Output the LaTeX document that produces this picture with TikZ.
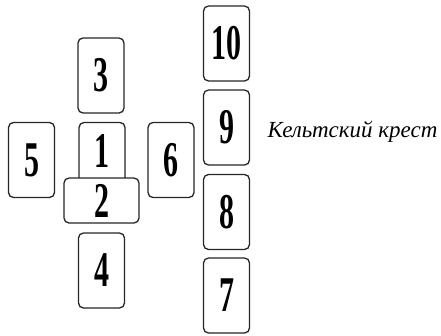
\documentclass[tikz,border=0pt]{standalone}
\usepackage{fontspec}
\setmainfont{Liberation Serif}
\newcommand{\cardnum}[1]{\scalebox{0.6}[1]{\fontsize{50}{50}\selectfont\bfseries #1}}
\tikzset{
  card/.style={draw=black!85, line width=1.3pt, rounded corners=5pt, fill=white,
    minimum width=46pt, minimum height=75pt, inner sep=0pt},
  crosscard/.style={card, minimum width=75pt, minimum height=45pt}
}
\begin{document}
\begin{tikzpicture}[x=1pt, y=-1pt]
  \useasboundingbox (0,0) rectangle (441,335);
  % the cross
  \foreach \n/\x/\y in {3/101/75.5, 4/101.5/270.5, 5/31.5/160, 6/171/160} {
    \node[card] (card\n) at (\x,\y) {\cardnum{\n}};
  }
  \node[card] (card1) at (102,160) {};
  \node[inner sep=0pt] (num1) at ([yshift=9pt]card1.center) {\cardnum{1}};
  \node[crosscard] (card2) at (101.5,200.5) {\cardnum{2}};
  % the staff
  \foreach \n/\y in {10/43.5, 9/127.5, 8/212, 7/295.5} {
    \node[card] (card\n) at (226.5,\y) {\cardnum{\n}};
  }
  \node[anchor=west, font=\fontsize{23}{27}\selectfont\itshape] (title) at (264,132) {Кельтский крест};
\end{tikzpicture}
\end{document}
